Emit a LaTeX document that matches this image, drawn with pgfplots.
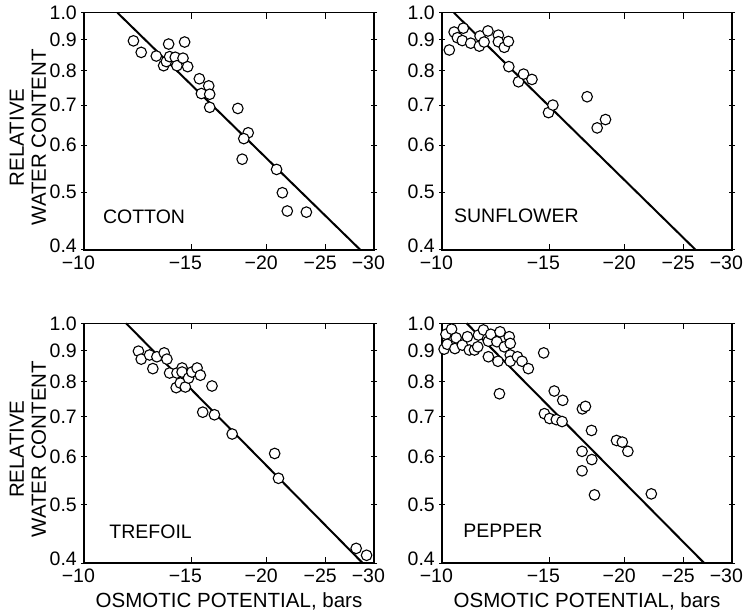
\documentclass[border=0pt]{standalone}
\usepackage{fontspec}
\setmainfont{Liberation Sans}
\usepackage{pgfplots}
\usepackage{pgfplotstable}
\pgfplotsset{compat=1.18}
\newcommand{\lbl}{\fontsize{19.5}{21.5}\selectfont}
\newcommand{\albl}{\fontsize{20.5}{22}\selectfont}

% osmotic potential (bars), relative water content
\pgfplotstableread{
psi rwc
-12.06 0.897
-12.42 0.858
-13.15 0.846
-13.78 0.886
-14.64 0.893
-13.52 0.815
-13.66 0.828
-13.83 0.844
-14.13 0.842
-14.22 0.815
-14.55 0.839
-14.81 0.812
-15.48 0.775
-16.04 0.754
-15.60 0.732
-16.10 0.730
-16.10 0.694
-17.91 0.691
-18.63 0.629
-18.32 0.615
-18.21 0.568
-20.74 0.546
-21.20 0.499
-21.60 0.465
-23.22 0.463
}\cotton

\pgfplotstableread{
psi rwc
-10.28 0.866
-10.47 0.928
-10.60 0.908
-10.80 0.898
-10.84 0.942
-11.15 0.889
-11.52 0.879
-11.55 0.914
-11.73 0.893
-11.90 0.932
-12.38 0.917
-12.38 0.894
-12.66 0.875
-12.86 0.895
-12.88 0.812
-13.36 0.766
-13.62 0.789
-14.06 0.773
-14.97 0.680
-15.22 0.700
-17.33 0.723
-18.00 0.641
-18.58 0.662
}\sunflower

\pgfplotstableread{
psi rwc
-12.29 0.899
-12.42 0.872
-12.82 0.886
-12.98 0.841
-13.18 0.880
-13.55 0.893
-13.69 0.872
-13.83 0.827
-14.22 0.827
-14.18 0.782
-14.40 0.796
-14.50 0.843
-14.50 0.830
-14.68 0.784
-14.86 0.811
-15.05 0.830
-15.35 0.843
-15.54 0.820
-16.24 0.787
-15.68 0.712
-16.39 0.705
-17.53 0.655
-20.59 0.608
-20.89 0.553
-28.04 0.423
-29.17 0.412
}\trefoil

\pgfplotstableread{
psi rwc
-10.08 0.906
-10.15 0.959
-10.20 0.923
-10.37 0.978
-10.50 0.908
-10.55 0.946
-10.80 0.920
-11.01 0.950
-11.09 0.903
-11.31 0.903
-11.45 0.914
-11.48 0.956
-11.70 0.975
-11.92 0.934
-11.92 0.880
-12.03 0.959
-12.31 0.932
-12.36 0.865
-12.46 0.968
-12.66 0.914
-12.90 0.950
-12.95 0.926
-12.95 0.886
-12.95 0.865
-13.31 0.880
-13.54 0.865
-13.87 0.841
-12.43 0.764
-14.70 0.893
-15.30 0.772
-15.80 0.745
-14.74 0.708
-15.03 0.695
-15.42 0.692
-15.76 0.687
-17.02 0.721
-17.22 0.728
-17.62 0.664
-17.00 0.613
-17.64 0.594
-17.00 0.569
-17.82 0.519
-19.37 0.639
-19.80 0.635
-20.22 0.613
-22.10 0.521
}\pepper

\pgfplotsset{
  panel/.style={
    scale only axis, width=290pt,
    xmin=10, xmax=30, ymin=0.4, ymax=1.0,
    xtick={10,15,20,25,30},
    xticklabels={\llap{−}10,\llap{−}15,\llap{−}20,\llap{−}25,\llap{−}30},
    ytick={0.4,0.5,0.6,0.7,0.8,0.9,1.0},
    yticklabels={\raisebox{4pt}[\height][\depth]{0.4},0.5,0.6,0.7,0.8,0.9,1.0},
    minor xtick={}, minor ytick={},
    xtick align=inside, ytick align=center,
    major tick length=6pt,
    tick style={black, line width=1pt},
    axis line style={line width=1.3pt},
    tick label style={font=\lbl},
    xticklabel style={anchor=north, inner sep=0pt, yshift=-5.5pt},
    yticklabel style={anchor=east, inner sep=0pt, xshift=-4pt},
    every axis y label/.style={at={(axis description cs:-0.13,0.475)}, rotate=90, anchor=south, align=center, inner sep=0pt, font=\albl},
    every axis x label/.style={at={(axis description cs:0.5,0)}, anchor=north, yshift=-29pt, inner sep=0pt, font=\albl},
    clip=false,
    anchor=south west,
  },
  fitline/.style={black, line width=2pt, no marks},
  pts/.style={only marks, mark=*, mark size=5.3pt, mark options={fill=white, draw=black, line width=1.1pt}},
}

\begin{document}
\begin{tikzpicture}
\useasboundingbox (0,0) rectangle (745pt,616pt);

% COTTON
\begin{loglogaxis}[panel, height=237.3pt, at={(84pt,366pt)}, ylabel={RELATIVE\\WATER CONTENT}]
\addplot[fitline] coordinates {(11.35,1.0) (28.5,0.4)};
\addplot[pts] table[x expr=-\thisrow{psi}, y=rwc] {\cotton};
\node[anchor=west, inner sep=0pt, font=\lbl] at (axis description cs:0.065,0.14) {COTTON};
\end{loglogaxis}

% SUNFLOWER
\begin{loglogaxis}[panel, height=237.3pt, at={(442pt,366pt)}]
\addplot[fitline] coordinates {(10.46,1.0) (26.15,0.4)};
\addplot[pts] table[x expr=-\thisrow{psi}, y=rwc] {\sunflower};
\node[anchor=west, inner sep=0pt, font=\lbl] at (axis description cs:0.041,0.143) {SUNFLOWER};
\end{loglogaxis}

% TREFOIL
\begin{loglogaxis}[panel, height=239.7pt, at={(84pt,53pt)}, ylabel={RELATIVE\\WATER CONTENT}, xlabel={OSMOTIC POTENTIAL, bars}]
\addplot[fitline] coordinates {(11.73,1.0) (28.73,0.4)};
\addplot[pts] table[x expr=-\thisrow{psi}, y=rwc] {\trefoil};
\node[anchor=west, inner sep=0pt, font=\lbl] at (axis description cs:0.087,0.13) {TREFOIL};
\end{loglogaxis}

% PEPPER
\begin{loglogaxis}[panel, height=239.7pt, at={(442pt,53pt)}, xlabel={OSMOTIC POTENTIAL, bars}]
\addplot[fitline] coordinates {(10.98,1.0) (26.99,0.4)};
\addplot[pts] table[x expr=-\thisrow{psi}, y=rwc] {\pepper};
\node[anchor=west, inner sep=0pt, font=\lbl] at (axis description cs:0.073,0.133) {PEPPER};
\end{loglogaxis}
\end{tikzpicture}
\end{document}
